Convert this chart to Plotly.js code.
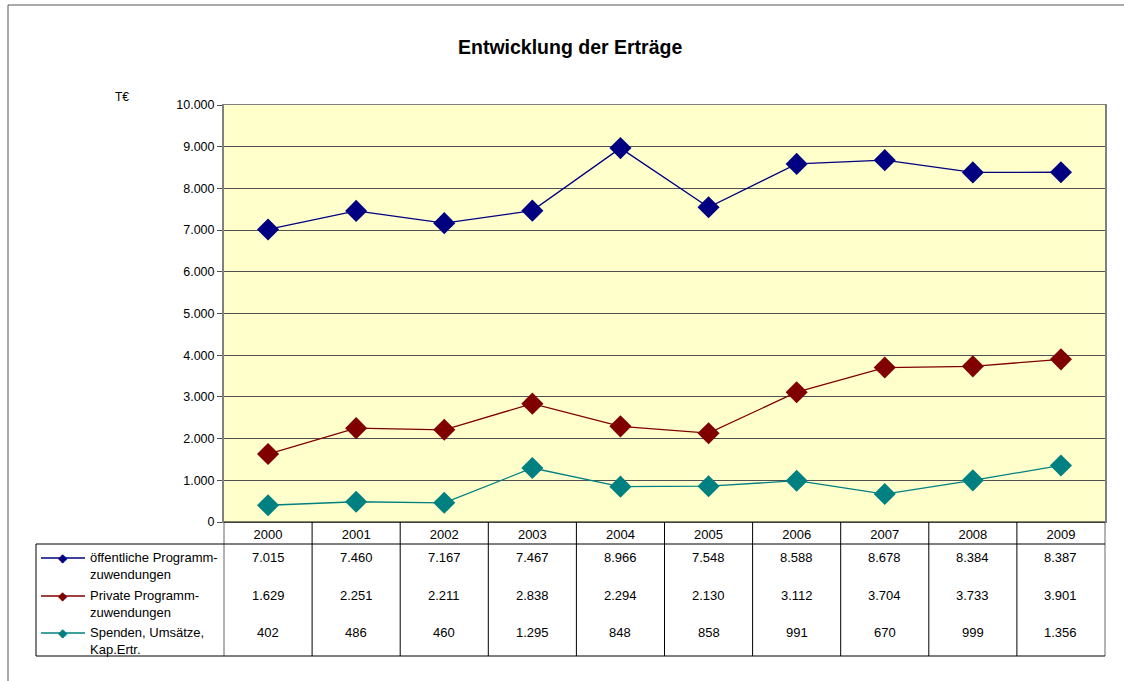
<!DOCTYPE html>
<html><head><meta charset="utf-8">
<script src="https://cdn.plot.ly/plotly-3.0.1.min.js"></script>
<style>body{margin:0;background:#fff}#c{width:1124px;height:681px}</style>
</head><body><div id="c"></div>
<script>
const years = ['2000','2001','2002','2003','2004','2005','2006','2007','2008','2009'];
const oeffentlich = [7015, 7460, 7167, 7467, 8966, 7548, 8588, 8678, 8384, 8387];
const privat = [1629, 2251, 2211, 2838, 2294, 2130, 3112, 3704, 3733, 3901];
const spenden = [402, 486, 460, 1295, 848, 858, 991, 670, 999, 1356];
const seriesNames = ['öffentliche Programm-<br>zuwendungen', 'Private Programm-<br>zuwendungen', 'Spenden, Umsätze,<br>Kap.Ertr.'];
const seriesColors = ['#000080', '#800000', '#008080'];
const seriesData = [oeffentlich, privat, spenden];

// layout geometry (pixels)
const W = 1124, H = 681;
const L = 224, R = 1105, T = 105, B = 522;
const tableBottom = 656, headerBottom = 544, tableLeft = 36;
const rowY = [557, 595, 632];
const px = x => (x - L) / (R - L);
const py = y => (B - y) / (B - T);
const colCenter = i => (i + 0.5) / years.length;

function fmt(v){ return v.toString().replace(/\B(?=(\d{3})+(?!\d))/g, '.'); }

const FONT = 'Liberation Sans, Arial, sans-serif';
const traces = seriesData.map((d, i) => ({
  type: 'scatter', mode: 'lines+markers', x: years, y: d,
  name: seriesNames[i], showlegend: false,
  line: {color: seriesColors[i], width: 1.3},
  marker: {symbol: 'diamond', size: 17, color: seriesColors[i]},
  cliponaxis: false
}));

const shapes = [];
const lineC = '#000';
// outer border (top and left visible; right/bottom cropped)
shapes.push({type:'line', xref:'paper', yref:'paper', x0:px(8), x1:px(W), y0:py(5), y1:py(5), line:{color:'#555', width:1}});
shapes.push({type:'line', xref:'paper', yref:'paper', x0:px(8), x1:px(8), y0:py(5), y1:py(H), line:{color:'#555', width:1}});
// vertical table lines
for (let i = 0; i <= years.length; i++) {
  shapes.push({type:'line', xref:'paper', yref:'paper', x0:i/years.length, x1:i/years.length, y0:py(B), y1:py(tableBottom), line:{color: (i===0||i===years.length)?'#666':lineC, width:1}});
}
// horizontal lines
shapes.push({type:'line', xref:'paper', yref:'paper', x0:px(tableLeft), x1:1, y0:py(headerBottom), y1:py(headerBottom), line:{color:lineC, width:1}});
shapes.push({type:'line', xref:'paper', yref:'paper', x0:px(tableLeft), x1:1, y0:py(tableBottom), y1:py(tableBottom), line:{color:lineC, width:1}});
shapes.push({type:'line', xref:'paper', yref:'paper', x0:0, x1:1, y0:0, y1:0, line:{color:lineC, width:1}});
shapes.push({type:'line', xref:'paper', yref:'paper', x0:px(tableLeft), x1:px(tableLeft), y0:py(headerBottom), y1:py(tableBottom), line:{color:lineC, width:1}});

const annotations = [];
// title
annotations.push({xref:'paper', yref:'paper', x:px(570), y:py(47), text:'<b>Entwicklung der Erträge</b>', showarrow:false, font:{family:FONT, size:19.5, color:'#000'}, xanchor:'center', yanchor:'middle'});
annotations.push({xref:'paper', yref:'paper', x:px(122), y:py(97), text:'T€', showarrow:false, font:{family:FONT, size:12, color:'#000'}, xanchor:'center', yanchor:'middle'});
// legend in table
seriesData.forEach((d, s) => {
  const yl = rowY[s] + 1;
  shapes.push({type:'line', xref:'paper', yref:'paper', x0:px(41), x1:px(85), y0:py(yl), y1:py(yl), line:{color:seriesColors[s], width:1.3}});
  annotations.push({xref:'paper', yref:'paper', x:px(63), y:py(yl), text:'◆', showarrow:false, font:{family:'DejaVu Sans', size:12, color:seriesColors[s]}, xanchor:'center', yanchor:'middle'});
  annotations.push({xref:'paper', yref:'paper', x:px(88), y:py(rowY[s]-9), text:seriesNames[s], showarrow:false, align:'left', font:{family:FONT, size:13, color:'#000'}, xanchor:'left', yanchor:'top'});
  d.forEach((v, i) => {
    annotations.push({xref:'paper', yref:'paper', x:colCenter(i), y:py(rowY[s]), text:fmt(v), showarrow:false, font:{family:FONT, size:13, color:'#000'}, xanchor:'center', yanchor:'middle'});
  });
});

const layout = {
  width: W, height: H,
  margin: {l: L, r: W - R, t: T, b: H - B},
  paper_bgcolor: '#fff', plot_bgcolor: '#FFFFCC',
  separators: ',.',
  font: {family: FONT, size: 12, color: '#000'},
  xaxis: {type:'category', range:[-0.5, 9.5], showgrid:false, zeroline:false,
          showline:true, mirror:true, linecolor:'#808080', linewidth:1,
          ticks:'', tickfont:{family:FONT, size:13}, fixedrange:true},
  yaxis: {range:[0, 10000], dtick:1000, tickformat:',d', showgrid:true, gridcolor:'#505050', gridwidth:1,
          zeroline:false, showline:true, mirror:true, linecolor:'#808080', linewidth:2,
          ticks:'outside', ticklen:5, tickcolor:'#505050', tickfont:{family:FONT, size:12.5}, fixedrange:true},
  shapes, annotations
};
Plotly.newPlot('c', traces, layout, {displayModeBar:false, staticPlot:true});
</script></body></html>
